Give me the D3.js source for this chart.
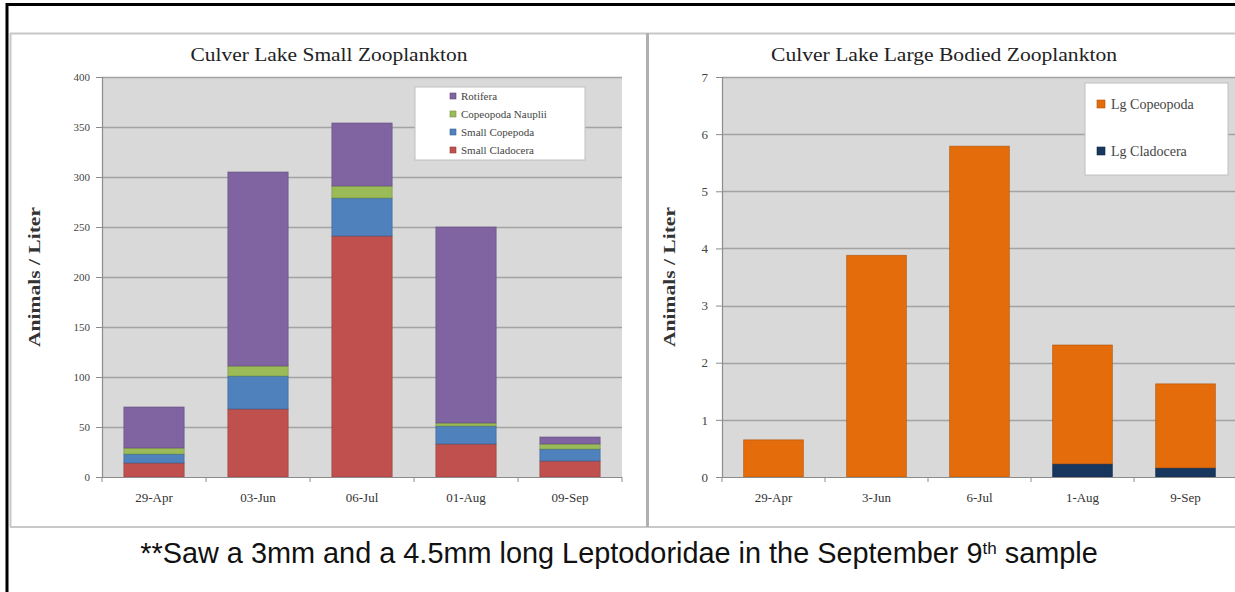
<!DOCTYPE html>
<html>
<head>
<meta charset="utf-8">
<script src="https://cdn.jsdelivr.net/npm/d3@7"></script>
<style>
  html, body { margin: 0; padding: 0; background: #fff; }
  svg { display: block; }
</style>
</head>
<body>
<svg id="chart" width="1235" height="592"></svg>
<script>
// Sampling dates
const smallDates = ["29-Apr", "03-Jun", "06-Jul", "01-Aug", "09-Sep"];
const largeDates = ["29-Apr", "3-Jun", "6-Jul", "1-Aug", "9-Sep"];

// Small zooplankton densities (animals / liter), stacked bottom to top
const smallCladocera   = [14, 68, 241, 33, 16];
const smallCopepoda    = [9, 33, 38, 18, 12];
const copepodaNauplii  = [6, 10, 12, 3, 5];
const rotifera         = [41, 194, 63, 196, 7];

// Large bodied zooplankton densities (animals / liter), stacked bottom to top
const lgCladocera = [0, 0, 0, 0.23, 0.16];
const lgCopepoda  = [0.65, 3.88, 5.79, 2.08, 1.47];

// Axis ticks
const smallTicks = [0, 50, 100, 150, 200, 250, 300, 350, 400];
const largeTicks = [0, 1, 2, 3, 4, 5, 6, 7];

const smallSeries = [
  { name: "Small Cladocera",   values: smallCladocera,  color: "#c0504d" },
  { name: "Small Copepoda",    values: smallCopepoda,   color: "#4f81bd" },
  { name: "Copeopoda Nauplii", values: copepodaNauplii, color: "#9bbb59" },
  { name: "Rotifera",          values: rotifera,        color: "#8064a2" }
];
const largeSeries = [
  { name: "Lg Cladocera", values: lgCladocera, color: "#17375e" },
  { name: "Lg Copeopoda", values: lgCopepoda,  color: "#e46c0a" }
];

const svg = d3.select("#chart");
const serif = "'Liberation Serif', 'DejaVu Serif', serif";

// Page frame and panel borders
svg.append("line").attr("x1", 7).attr("x2", 7).attr("y1", 3).attr("y2", 592)
  .attr("stroke", "#000").attr("stroke-width", 3);
svg.append("line").attr("x1", 6).attr("x2", 1235).attr("y1", 4.5).attr("y2", 4.5)
  .attr("stroke", "#000").attr("stroke-width", 3);
svg.append("line").attr("x1", 10).attr("x2", 1235).attr("y1", 33.5).attr("y2", 33.5)
  .attr("stroke", "#c8c8c8").attr("stroke-width", 2);
svg.append("line").attr("x1", 10).attr("x2", 1235).attr("y1", 527).attr("y2", 527)
  .attr("stroke", "#c8c8c8").attr("stroke-width", 2);
svg.append("line").attr("x1", 10.5).attr("x2", 10.5).attr("y1", 33).attr("y2", 527)
  .attr("stroke", "#c8c8c8").attr("stroke-width", 2);
svg.append("line").attr("x1", 647.5).attr("x2", 647.5).attr("y1", 33).attr("y2", 527)
  .attr("stroke", "#b0b0b0").attr("stroke-width", 3);

function drawChart(cfg) {
  const g = svg.append("g");
  const x = d3.scaleBand().domain(cfg.dates).range(cfg.xRange)
    .paddingInner(0.42).paddingOuter(0.21);
  const y = d3.scaleLinear().domain(cfg.yDomain).range([477, 77]);

  // Plot background
  g.append("rect")
    .attr("x", cfg.xRange[0]).attr("y", y(cfg.yDomain[1]))
    .attr("width", cfg.xRange[1] - cfg.xRange[0])
    .attr("height", y(0) - y(cfg.yDomain[1]))
    .attr("fill", "#d9d9d9");

  // Horizontal gridlines
  g.selectAll(".grid").data(cfg.ticks.filter(t => t > 0)).join("line")
    .attr("x1", cfg.xRange[0]).attr("x2", cfg.xRange[1])
    .attr("y1", d => Math.round(y(d)) + 0.5).attr("y2", d => Math.round(y(d)) + 0.5)
    .attr("stroke", "#a3a3a3").attr("stroke-width", 1.5);

  // Stacked bars
  const stack = d3.stack()
    .keys(cfg.series.map((s, i) => i))
    .value((d, k) => cfg.series[k].values[d]);
  const layers = stack(d3.range(cfg.dates.length));
  layers.forEach((layer, k) => {
    g.selectAll(null).data(layer).join("rect")
      .attr("x", (d, i) => x(cfg.dates[i]))
      .attr("width", x.bandwidth())
      .attr("y", d => y(d[1]))
      .attr("height", d => Math.max(0, y(d[0]) - y(d[1])))
      .attr("fill", cfg.series[k].color)
      .attr("stroke", d => (d[1] - d[0]) > 0 ? d3.color(cfg.series[k].color).darker(0.8) : "none")
      .attr("stroke-width", 0.8)
      .attr("stroke-opacity", 0.7);
  });

  // Y axis
  const yAxis = d3.axisLeft(y).tickValues(cfg.ticks).tickSize(6).tickPadding(cfg.yPad)
    .tickFormat(d3.format("d"));
  const ya = g.append("g").attr("transform", `translate(${cfg.xRange[0]},0)`).call(yAxis);
  ya.select(".domain").attr("stroke", "#8c8c8c").attr("stroke-width", 1.2);
  ya.selectAll(".tick line").attr("stroke", "#8c8c8c");
  ya.selectAll("text").attr("font-family", serif).attr("font-size", cfg.yFont)
    .attr("fill", "#444");

  // X axis: tick marks sit between categories
  g.append("line").attr("x1", cfg.xRange[0]).attr("x2", cfg.xRange[1])
    .attr("y1", y(0) + 0.5).attr("y2", y(0) + 0.5)
    .attr("stroke", "#8c8c8c").attr("stroke-width", 1.2);
  g.selectAll(".xtick").data(d3.range(cfg.dates.length + 1)).join("line")
    .attr("x1", i => cfg.xRange[0] + i * x.step()).attr("x2", i => cfg.xRange[0] + i * x.step())
    .attr("y1", y(0)).attr("y2", y(0) + 5)
    .attr("stroke", "#8c8c8c");
  g.selectAll(".xlab").data(cfg.dates).join("text")
    .attr("x", d => x(d) + x.bandwidth() / 2).attr("y", 502)
    .attr("text-anchor", "middle")
    .attr("font-family", serif).attr("font-size", 13).attr("fill", "#333")
    .text(d => d);

  // Title
  g.append("text").attr("x", cfg.titleX).attr("y", 61).attr("text-anchor", "middle")
    .attr("font-family", serif).attr("font-size", 18).attr("fill", "#222")
    .attr("textLength", cfg.titleLen).attr("lengthAdjust", "spacingAndGlyphs")
    .text(cfg.title);

  // Y axis title
  g.append("text")
    .attr("transform", `translate(${cfg.yTitleX},277) rotate(-90)`)
    .attr("text-anchor", "middle")
    .attr("font-family", serif).attr("font-size", 17).attr("font-weight", "bold")
    .attr("fill", "#333")
    .attr("textLength", 140).attr("lengthAdjust", "spacingAndGlyphs")
    .text("Animals / Liter");

  // Legend
  const L = cfg.legend;
  g.append("rect").attr("x", L.x).attr("y", L.y).attr("width", L.w).attr("height", L.h)
    .attr("fill", "#fff").attr("stroke", "#c0c0c0").attr("stroke-width", 1);
  const items = cfg.series.slice().reverse();
  items.forEach((s, i) => {
    const cy = L.rowY[i];
    g.append("rect").attr("x", L.swX).attr("y", cy - L.sw / 2).attr("width", L.sw).attr("height", L.sw)
      .attr("fill", s.color).attr("stroke", d3.color(s.color).darker(0.8)).attr("stroke-width", 0.6);
    g.append("text").attr("x", L.txX).attr("y", cy).attr("dy", "0.35em")
      .attr("font-family", serif).attr("font-size", L.font).attr("fill", "#444")
      .text(s.name);
  });
}

drawChart({
  dates: smallDates, series: smallSeries, ticks: smallTicks, yDomain: [0, 400],
  xRange: [102, 622], yFont: 11, yPad: 6,
  title: "Culver Lake Small Zooplankton", titleX: 329, titleLen: 277, yTitleX: 40,
  legend: { x: 415, y: 87, w: 170, h: 73, rowY: [96, 114, 132, 150], swX: 450, sw: 6, txX: 461, font: 11 }
});

drawChart({
  dates: largeDates, series: largeSeries, ticks: largeTicks, yDomain: [0, 7],
  xRange: [722, 1237], yFont: 13, yPad: 8,
  title: "Culver Lake Large Bodied Zooplankton", titleX: 944, titleLen: 346, yTitleX: 675,
  legend: { x: 1085, y: 83, w: 143, h: 92, rowY: [104, 151], swX: 1097, sw: 8, txX: 1111, font: 14 }
});

// Footnote
const note = svg.append("text").attr("x", 619).attr("y", 563).attr("text-anchor", "middle")
  .attr("font-family", "'Liberation Sans Narrow', 'Liberation Sans', 'DejaVu Sans', sans-serif")
  .attr("font-size", 22).attr("fill", "#111");
note.append("tspan").text("**Saw a 3mm and a 4.5mm long Leptodoridae in the September 9");
note.append("tspan").attr("font-size", 13).attr("dy", -9).text("th");
note.append("tspan").attr("dy", 9).text(" sample");
// Fit the footnote to its line width
const w = note.node().getComputedTextLength();
const target = 958;
if (w > 0) {
  const k = target / w;
  note.attr("font-size", 22 * k);
  note.selectAll("tspan").filter((d, i) => i === 1).attr("font-size", 13 * k);
}
</script>
</body>
</html>
